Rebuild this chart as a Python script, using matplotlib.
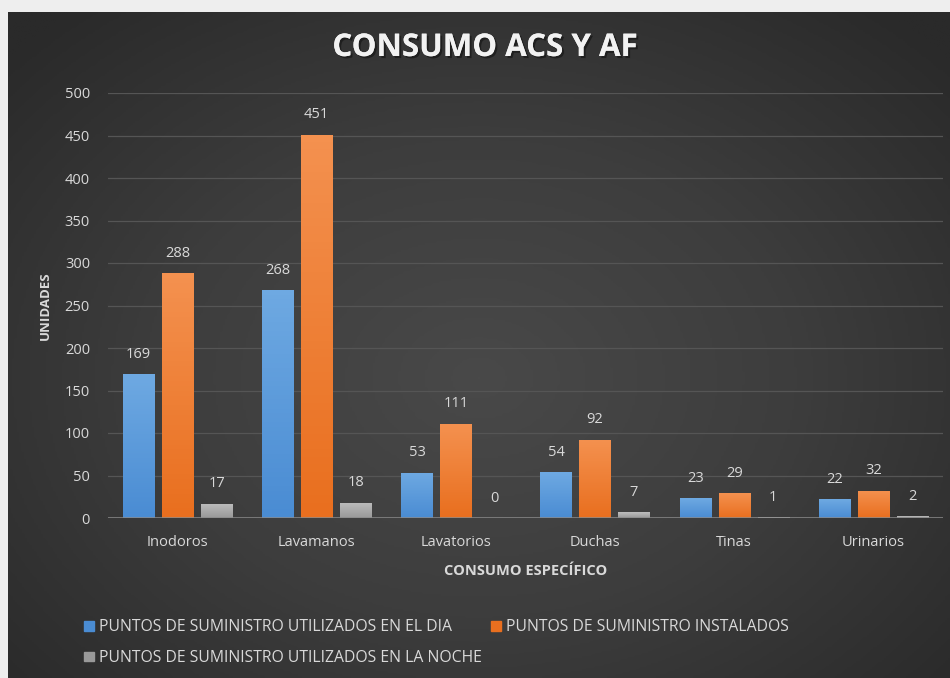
import numpy as np
import matplotlib.pyplot as plt
from matplotlib.colors import LinearSegmentedColormap
from matplotlib.patches import Patch
import matplotlib.patheffects as pe

categories = ["Inodoros", "Lavamanos", "Lavatorios", "Duchas", "Tinas", "Urinarios"]
dia = [169, 268, 53, 54, 23, 22]
instalados = [288, 451, 111, 92, 29, 32]
noche = [17, 18, 0, 7, 1, 2]
series_names = ["PUNTOS DE SUMINISTRO UTILIZADOS EN EL DIA",
                "PUNTOS DE SUMINISTRO INSTALADOS",
                "PUNTOS DE SUMINISTRO UTILIZADOS EN LA NOCHE"]
yticks = [0, 50, 100, 150, 200, 250, 300, 350, 400, 450, 500]

txt = "#d9d9d9"
plt.rcParams['font.family'] = ["Open Sans", "DejaVu Sans"]

fig = plt.figure(figsize=(9.5, 6.78), dpi=100, facecolor="#eeeeee")

# dark chart background with soft radial gradient
bg = fig.add_axes([8/950, 0, 1 - 8/950, 666/678])
yy, xx = np.mgrid[0:1:300j, 0:1:400j]
r = np.sqrt(((xx - 0.5) / 0.75) ** 2 + ((yy - 0.55) / 0.8) ** 2)
bgcmap = LinearSegmentedColormap.from_list("bg", ["#494949", "#3d3d3d", "#2a2a2a"])
bg.imshow(r, cmap=bgcmap, aspect="auto", extent=[0, 1, 0, 1], vmin=0, vmax=0.9)
bg.set_axis_off()

ax = fig.add_axes([108/950, 160/678, 835/950, 425/678])
ax.set_facecolor("none")

x = np.arange(len(categories))
w = 0.225
step = 0.28
colors = [("#6ea9e2", "#4a8cd3"), ("#f4914f", "#e96f1f"), ("#bdbdbd", "#999999")]
data = [dia, instalados, noche]

for k, (vals, (ctop, cbot)) in enumerate(zip(data, colors)):
    bars = ax.bar(x + (k - 1) * step, vals, w, color=cbot, zorder=3)
    cm = LinearSegmentedColormap.from_list("c%d" % k, [cbot, ctop])
    for b in bars:
        bx, bw, bh = b.get_x(), b.get_width(), b.get_height()
        if bh <= 0:
            continue
        im = ax.imshow(np.linspace(0, 1, 50).reshape(-1, 1), cmap=cm, origin="lower",
                       extent=[bx, bx + bw, 0, bh], aspect="auto", zorder=4)
        im.set_clip_path(b)
    for xi, v in zip(x + (k - 1) * step, vals):
        ax.annotate(str(v), (xi, v), xytext=(0, 9), textcoords="offset points",
                    ha="center", va="bottom", color=txt, fontsize=10.5)

ax.set_xlim(-0.5, len(categories) - 0.5)
ax.set_ylim(0, 500)
ax.set_yticks(yticks)
ax.set_xticks(x)
ax.set_xticklabels(categories, fontsize=11)
ax.tick_params(axis="both", length=0, colors=txt, labelsize=10.5)
ax.tick_params(axis="y", pad=13)
ax.tick_params(axis="x", pad=12)
ax.grid(axis="y", color="#555555", linewidth=0.9, zorder=0)
ax.axhline(0, color="#8a8a8a", linewidth=1.8, zorder=5)
for s in ax.spines.values():
    s.set_visible(False)

ax.set_xlabel("CONSUMO ESPECÍFICO", color=txt, fontsize=10.5, fontweight="bold",
              labelpad=10)
fig.text(45/950, 1 - 306/678, "UNIDADES", rotation=90, color=txt, fontsize=9.5,
         fontweight="bold", ha="center", va="center")
fig.text(485/950, 1 - 48/678, "CONSUMO ACS Y AF", color="#f2f2f2", fontsize=22.5,
         fontweight="bold", ha="center", va="center",
         path_effects=[pe.withSimplePatchShadow(offset=(1.5, -1.5), shadow_rgbFace="#111111", alpha=0.6),
                       pe.Normal()])

handles = [Patch(color=colors[0][1], label=series_names[0]),
           Patch(color=colors[2][1], label=series_names[2]),
           Patch(color=colors[1][1], label=series_names[1])]
leg = fig.legend(handles=handles, ncol=2, loc="upper left",
                 bbox_to_anchor=(70/950, 1 - 605/678), frameon=False,
                 handlelength=0.6, handleheight=0.6, handletextpad=0.35,
                 columnspacing=0.6, labelspacing=0.95,
                 prop={"size": 11.3})
for t in leg.get_texts():
    t.set_color(txt)

fig.savefig("out.png", dpi=100, facecolor=fig.get_facecolor())
